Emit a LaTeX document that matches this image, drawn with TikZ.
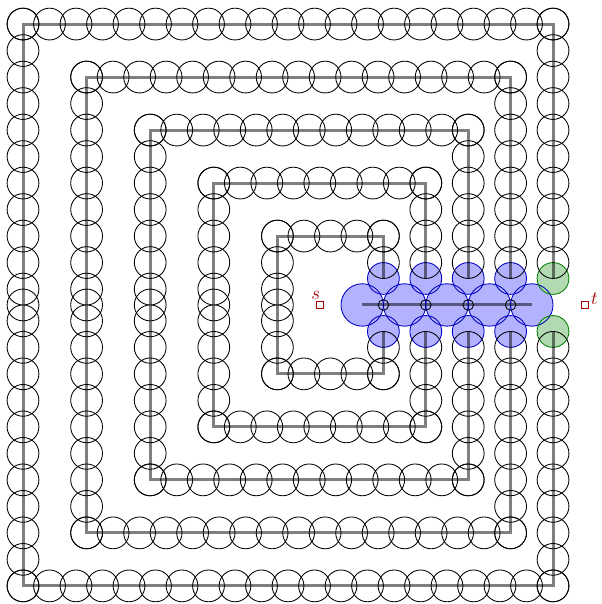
\RequirePackage{fix-cm}
\documentclass[tikz,border=0pt]{standalone}
\usepackage{amsmath}
\tikzset{
	disk/.style={draw=black, line width=0.85pt},
	track/.style={draw=black, draw opacity=0.5, line width=3pt},
	bluefill/.style={fill=blue!30},
	greenfill/.style={fill=green!50!black!30},
	blueline/.style={draw=blue!75!black, line width=0.85pt},
	greenline/.style={draw=green!50!black, line width=0.85pt},
	terminal/.style={draw=red!65!black, line width=0.9pt, minimum size=6.5pt, inner sep=0pt},
	termlabel/.style={text=red!65!black, inner sep=0pt, font=\fontsize{19}{23}\selectfont}
}
\begin{document}
\begin{tikzpicture}[x=10.6pt, y=10.6pt]
	\useasboundingbox (-2.17, -28.21) rectangle (54.62, 28.77);
	\foreach \x in {32, 36, 40, 44, 48}
		\fill[bluefill] (\x, 0) circle (2);
	\foreach \x in {34, 38, 42, 46}
		\fill[bluefill] (\x, 2.5) circle (1.5) (\x, -2.5) circle (1.5);
	\fill[greenfill] (50, 2.5) circle (1.5) (50, -2.5) circle (1.5);
	\foreach \x in {32, 36, 40, 44, 48}
		\draw[blueline] (\x, 0) circle (2);
	\foreach \x in {34, 38, 42, 46}
		\draw[blueline] (\x, 2.5) circle (1.5) (\x, -2.5) circle (1.5);
	\draw[greenline] (50, 2.5) circle (1.5) (50, -2.5) circle (1.5);
	\foreach \j [evaluate=\j as \l using 6*\j, evaluate=\j as \r using 50-4*\j,
			evaluate=\j as \h using 26.5-5*\j, evaluate=\j as \nt using int(20-4*\j),
			evaluate=\j as \nl using int(10-2*\j), evaluate=\j as \nr using int(9-2*\j)] in {0,...,4} {
		\foreach \k in {0,...,\nt}
			\draw[disk] (\l+2.5*\k, \h) circle (1.5) (\l+2.5*\k, -\h) circle (1.5);
		\foreach \k in {0,...,\nl}
			\draw[disk] (\l, \h-2.5*\k) circle (1.5) (\l, -\h+2.5*\k) circle (1.5);
		\draw[disk] (\l, 0) circle (1.5);
		\foreach \k in {0,...,\nr}
			\draw[disk] (\r, \h-2.5*\k) circle (1.5) (\r, -\h+2.5*\k) circle (1.5);
		\draw[track] (\r, 2.5) -- (\r, \h) -- (\l, \h) -- (\l, -\h) -- (\r, -\h) -- (\r, -2.5);
	}
	\foreach \x in {34, 38, 42, 46}
		\draw[disk] (\x, 0) circle (0.5);
	\coordinate (path start) at (32, 0);
	\coordinate (path end) at (48, 0);
	\draw[track] (path start) -- (path end);
	\node[terminal] (s) at (28, 0) {};
	\node[terminal] (t) at (53, 0) {};
	\node[termlabel, anchor=south] (s label) at ([xshift=-4pt, yshift=2pt]s.north) {$s$};
	\node[termlabel, anchor=base west] (t label) at ([xshift=2.5pt]t.east) {$t$};
\end{tikzpicture}
\end{document}
